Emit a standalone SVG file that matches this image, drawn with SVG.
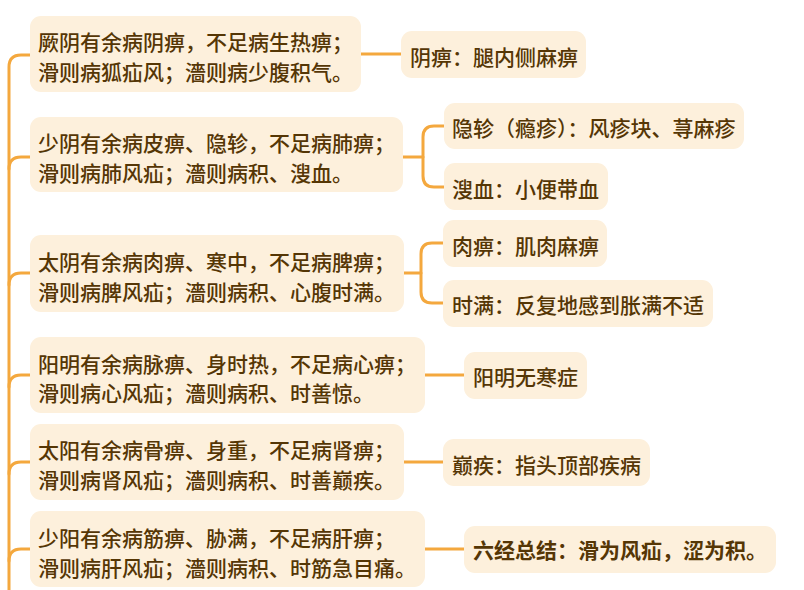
<svg xmlns="http://www.w3.org/2000/svg" width="804" height="590" viewBox="0 0 804 590">
<style>
.box{fill:#fdf0dc}
.t{font-family:"Noto Sans CJK SC","Noto Sans",sans-serif;font-size:21px;font-weight:500;fill:#553605}
.b{font-weight:bold}
.c{fill:none;stroke:#f4a83e;stroke-width:3;stroke-linecap:round}
</style>
<rect width="804" height="590" fill="#ffffff"/>
<g id="connectors" class="c">
<path d="M9 592 V67 Q9 55 21 55 H30"/>
<path d="M9 169 Q9 157 21 157 H30"/>
<path d="M9 285 Q9 273 21 273 H30"/>
<path d="M9 387 Q9 375 21 375 H30"/>
<path d="M9 474 Q9 462 21 462 H30"/>
<path d="M9 561 Q9 549 21 549 H30"/>
<path d="M361 54 H401"/>
<path d="M403 157 H423"/>
<path d="M444 126 H434 Q423 126 423 137 V176 Q423 187 434 187 H444"/>
<path d="M404 273 H421"/>
<path d="M443 243 H432 Q421 243 421 254 V292 Q421 303 432 303 H443"/>
<path d="M425 375 H464"/>
<path d="M404 462 H443"/>
<path d="M425 549 H464"/>
</g>
<g id="n1"><rect class="box" x="30" y="16" width="331" height="76" rx="11"/>
<text class="t" x="38" y="49.5">厥阴有余病阴痹，不足病生热痹；</text>
<text class="t" x="38" y="79.5">滑则病狐疝风；濇则病少腹积气。</text></g>
<g id="n2"><rect class="box" x="30" y="117" width="373" height="75" rx="11"/>
<text class="t" x="38" y="150.5">少阴有余病皮痹、隐轸，不足病肺痹；</text>
<text class="t" x="38" y="180.5">滑则病肺风疝；濇则病积、溲血。</text></g>
<g id="n3"><rect class="box" x="30" y="235" width="374" height="77" rx="11"/>
<text class="t" x="38" y="270">太阴有余病肉痹、寒中，不足病脾痹；</text>
<text class="t" x="38" y="299.5">滑则病脾风疝；濇则病积、心腹时满。</text></g>
<g id="n4"><rect class="box" x="30" y="337" width="395" height="76" rx="11"/>
<text class="t" x="38" y="371.5">阳明有余病脉痹、身时热，不足病心痹；</text>
<text class="t" x="38" y="400.5">滑则病心风疝；濇则病积、时善惊。</text></g>
<g id="n5"><rect class="box" x="30" y="424" width="374" height="76" rx="11"/>
<text class="t" x="38" y="457.5">太阳有余病骨痹、身重，不足病肾痹；</text>
<text class="t" x="38" y="487.5">滑则病肾风疝；濇则病积、时善巅疾。</text></g>
<g id="n6"><rect class="box" x="30" y="511" width="395" height="76" rx="11"/>
<text class="t" x="38" y="545.5">少阳有余病筋痹、胁满，不足病肝痹；</text>
<text class="t" x="38" y="575.5">滑则病肝风疝；濇则病积、时筋急目痛。</text></g>
<g id="r1"><rect class="box" x="401" y="31" width="185" height="47" rx="11"/>
<text class="t" x="410" y="64.5">阴痹：腿内侧麻痹</text></g>
<g id="r2a"><rect class="box" x="444" y="103" width="300" height="46" rx="11"/>
<text class="t" x="452" y="135.5">隐轸（瘾疹）：风疹块、荨麻疹</text></g>
<g id="r2b"><rect class="box" x="444" y="163" width="164" height="47" rx="11"/>
<text class="t" x="452" y="196.5">溲血：小便带血</text></g>
<g id="r3a"><rect class="box" x="443" y="220" width="164" height="47" rx="11"/>
<text class="t" x="452" y="253.5">肉痹：肌肉麻痹</text></g>
<g id="r3b"><rect class="box" x="443" y="280" width="270" height="47" rx="11"/>
<text class="t" x="452" y="312.5">时满：反复地感到胀满不适</text></g>
<g id="r4"><rect class="box" x="464" y="352" width="123" height="47" rx="11"/>
<text class="t" x="473" y="384.5">阳明无寒症</text></g>
<g id="r5"><rect class="box" x="443" y="439" width="207" height="47" rx="11"/>
<text class="t" x="452" y="472.5">巅疾：指头顶部疾病</text></g>
<g id="r6"><rect class="box" x="464" y="526" width="312" height="47" rx="11"/>
<text class="t b" x="473" y="557.5">六经总结：滑为风疝，涩为积。</text></g>
</svg>
